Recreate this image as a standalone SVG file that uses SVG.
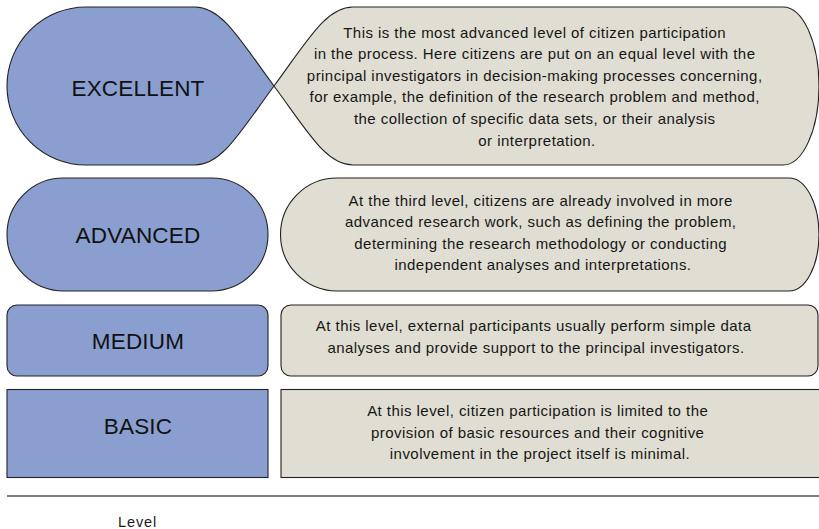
<svg xmlns="http://www.w3.org/2000/svg" width="819" height="529" viewBox="0 0 819 529">
  <style>
    .lvl { fill: #8a9ecf; stroke: #222; stroke-width: 1.1; }
    .desc { fill: #e0ded3; stroke: #222; stroke-width: 1.1; }
    .sq { stroke: #555; stroke-width: 1.5; }
    .label { font-family: "Liberation Sans", Arial, sans-serif; font-size: 22.5px; letter-spacing: 0.2px; fill: #111; text-anchor: middle; }
    .txt { font-family: "Liberation Sans", Arial, sans-serif; font-size: 15px; letter-spacing: 0.45px; fill: #161616; text-anchor: middle; }
    .axis { font-family: "Liberation Sans", Arial, sans-serif; font-size: 14.5px; letter-spacing: 0.9px; fill: #1a1a1a; }
  </style>
  <rect width="819" height="529" fill="#ffffff"/>

  <!-- Level: EXCELLENT -->
  <g id="level-excellent">
    <path class="lvl" d="M86,7 H195 C222,7 240,40 274,86 C240,132 222,165 195,165 H86 A79,79 0 0 1 86,7 Z"/>
    <text class="label" x="138" y="96">EXCELLENT</text>
  </g>
  <g id="desc-excellent">
    <path class="desc" d="M274,86 C308,40 326,7 353,7 H783 A36,79 0 0 1 783,165 H353 C326,165 308,132 274,86 Z"/>
    <text class="txt">
      <tspan x="537" y="37.5">This is the most advanced level of citizen participation</tspan>
      <tspan x="537" y="59">in the process. Here citizens are put on an equal level with the</tspan>
      <tspan x="537" y="80.5">principal investigators in decision-making processes concerning,</tspan>
      <tspan x="537" y="102">for example, the definition of the research problem and method,</tspan>
      <tspan x="537" y="124">the collection of specific data sets, or their analysis</tspan>
      <tspan x="537" y="145.5">or interpretation.</tspan>
    </text>
  </g>

  <!-- Level: ADVANCED -->
  <g id="level-advanced">
    <rect class="lvl" x="7" y="178" width="261" height="113" rx="56.5" ry="56.5"/>
    <text class="label" x="138" y="242.5">ADVANCED</text>
  </g>
  <g id="desc-advanced">
    <path class="desc" d="M337,178 H789 A30,56.5 0 0 1 789,291 H337 A56.5,56.5 0 0 1 337,178 Z"/>
    <text class="txt">
      <tspan x="543" y="205.5">At the third level, citizens are already involved in more</tspan>
      <tspan x="543" y="227">advanced research work, such as defining the problem,</tspan>
      <tspan x="543" y="248.5">determining the research methodology or conducting</tspan>
      <tspan x="543" y="270">independent analyses and interpretations.</tspan>
    </text>
  </g>

  <!-- Level: MEDIUM -->
  <g id="level-medium">
    <rect class="lvl" x="7" y="305" width="261" height="71" rx="10" ry="10"/>
    <text class="label" x="138" y="349">MEDIUM</text>
  </g>
  <g id="desc-medium">
    <rect class="desc" x="281" y="305" width="537" height="71" rx="10" ry="10"/>
    <text class="txt">
      <tspan x="536" y="331">At this level, external participants usually perform simple data</tspan>
      <tspan x="536" y="353">analyses and provide support to the principal investigators.</tspan>
    </text>
  </g>

  <!-- Level: BASIC -->
  <g id="level-basic">
    <rect class="lvl" x="7" y="389.5" width="261" height="88"/>
    <text class="label" x="138" y="434">BASIC</text>
  </g>
  <g id="desc-basic">
    <rect class="desc" x="281" y="389.5" width="545" height="88"/>
    <text class="txt">
      <tspan x="540" y="416">At this level, citizen participation is limited to the</tspan>
      <tspan x="540" y="437.5">provision of basic resources and their cognitive</tspan>
      <tspan x="540" y="459">involvement in the project itself is minimal.</tspan>
    </text>
  </g>

  <!-- baseline axis -->
  <g id="connectors">
    <line class="sq" x1="7" y1="496" x2="819" y2="496"/>
  </g>
  <text class="axis" x="118" y="527">Level</text>
</svg>
